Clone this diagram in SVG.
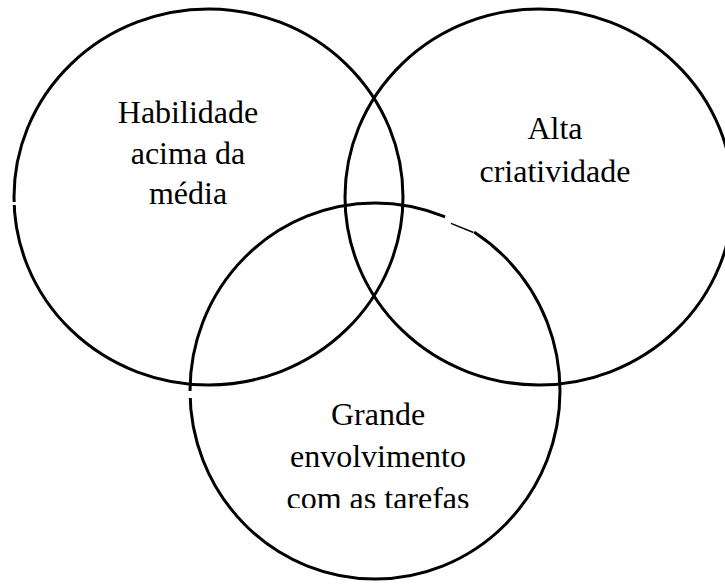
<svg xmlns="http://www.w3.org/2000/svg" width="725" height="584" viewBox="0 0 725 584">
<style>
.c{fill:none;stroke:#000;stroke-width:3}
.t{font-family:"Liberation Serif","Times New Roman",serif;font-size:32px;fill:#000;text-anchor:middle}
.gap{stroke:#fff;stroke-width:6;fill:none}
</style>
<defs>
<clipPath id="clipLast"><rect x="0" y="0" width="725" height="508"/></clipPath>
</defs>
<rect width="725" height="584" fill="#fff"/>
<g id="habilidade">
<ellipse class="c" cx="208.5" cy="197" rx="194.5" ry="188"/>
<rect x="8" y="202" width="12" height="3" fill="#fff"/>
<text class="t" x="188" y="123">Habilidade</text>
<text class="t" x="188" y="164">acima da</text>
<text class="t" x="188" y="204">média</text>
</g>
<g id="criatividade">
<ellipse class="c" cx="539" cy="197" rx="194" ry="188"/>
<text class="t" x="555" y="139">Alta</text>
<text class="t" x="555" y="182">criatividade</text>
</g>
<g id="envolvimento">
<ellipse class="c" cx="375" cy="391" rx="185" ry="188"/>
<rect x="185" y="391" width="10" height="7" fill="#fff"/>
<line class="gap" x1="445" y1="217" x2="474" y2="232.5"/>
<line x1="451" y1="223.3" x2="473.5" y2="232.5" stroke="#000" stroke-width="1.4"/>
<text class="t" x="378" y="425">Grande</text>
<text class="t" x="378" y="467">envolvimento</text>
<text class="t" x="378" y="509" clip-path="url(#clipLast)">com as tarefas</text>
</g>
<g id="connectors"></g>
</svg>
